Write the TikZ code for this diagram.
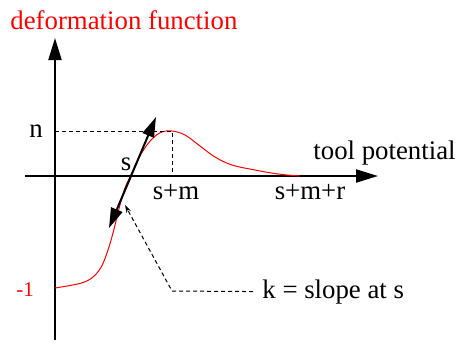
\documentclass[tikz,border=0pt]{standalone}
\usepackage{fontspec}
\setmainfont{Liberation Serif}
\usetikzlibrary{arrows.meta,positioning,calc}

\tikzset{
  axis/.style={line width=1pt,-{Triangle[length=11pt,width=6.5pt]}},
  guide/.style={line width=0.5pt,dash pattern=on 2pt off 1.5pt},
  lbl/.style={inner sep=0pt,font=\fontsize{13.4}{16}\selectfont},
}

\begin{document}
\begin{tikzpicture}[x=0.5pt,y=-0.5pt]
  \useasboundingbox (0,0) rectangle (459,343);
  % axes
  \coordinate (ybot) at (55,340);
  \coordinate (ytop) at (55,38);
  \coordinate (xleft) at (25,176);
  \coordinate (xright) at (378,176);
  \draw[axis] (ybot) -- (ytop);
  \draw[axis] (xleft) -- (xright);
  \node[lbl,red,anchor=base west] (title) at (10,29) {deformation function};
  \node[lbl,anchor=base west] (toolpot) at (313,159) {tool potential};
  % curve
  \draw[red,line width=0.5pt] plot[smooth,tension=0.6] coordinates {
    (55,288) (70,285.5) (83,282.5) (93,277) (101.5,266.5) (108,250) (113,233)
    (117,217) (120.5,203) (125,188) (130.5,176) (141,154) (152,139) (162,132)
    (172,131) (185,135) (200,146) (215,157) (232,165) (255,170) (278,174) (300,176)};
  % peak guides
  \coordinate (peak) at (172,131);
  \coordinate (nlevel) at (55,131);
  \coordinate (peakfoot) at (172,176);
  \draw[guide] (nlevel) -- (peak) -- (peakfoot);
  \node[lbl,anchor=base west] (nlbl) at (29,137) {n};
  \node[lbl,red,anchor=base west,font=\fontsize{10.5}{12}\selectfont] (minus) at (16,296) {-1};
  \node[lbl,anchor=base] (slbl) at (126,170) {s};
  \node[lbl,anchor=base] (smlbl) at (176,199) {s+m};
  \node[lbl,anchor=base] (smrlbl) at (310,199) {s+m+r};
  % tangent at s
  \coordinate (tanlo) at (109,228);
  \coordinate (tanhi) at (156,117);
  \draw[line width=1pt,{Triangle[length=10pt,width=6pt]}-{Triangle[length=10pt,width=6pt]}] (tanlo) -- (tanhi);
  % slope label
  \node[lbl,inner xsep=4.5pt,anchor=base west] (klabel) at (253,298) {k = slope at s};
  \coordinate (bend) at (172,291);
  \coordinate (slopetip) at (125,205);
  \draw[guide,-{Stealth[length=4pt,width=2.5pt]}] (klabel.west) -- (bend) -- (slopetip);
\end{tikzpicture}
\end{document}
